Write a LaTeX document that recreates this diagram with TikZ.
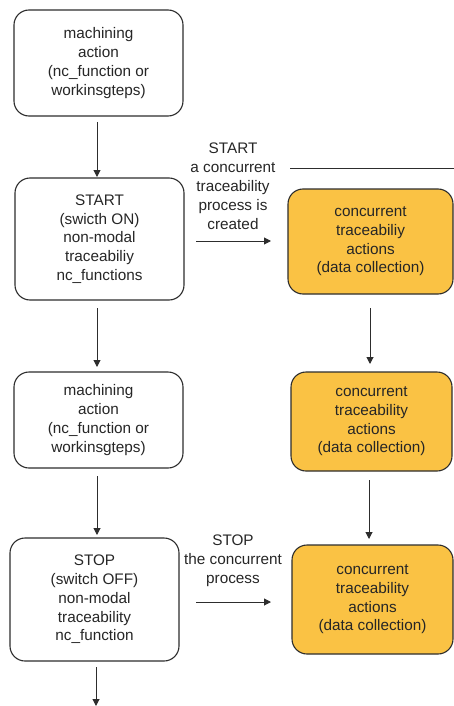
\documentclass[tikz,border=0pt]{standalone}
\usepackage{fontspec}
\setmainfont{Liberation Sans}
\usetikzlibrary{arrows.meta}
\definecolor{boxorange}{RGB}{250,194,68}
\definecolor{linegray}{RGB}{45,45,45}
\tikzset{
  whitebox/.style={draw=linegray, line width=1.1pt, rounded corners=15pt, fill=white,
    align=center, inner sep=0pt, font=\fontsize{15.3}{18.7}\selectfont, text=black!85},
  orangebox/.style={whitebox, fill=boxorange},
  flow/.style={draw=linegray, line width=1pt, -{Triangle[length=7pt,width=7pt]}},
  lbl/.style={align=center, inner sep=0pt, font=\fontsize{15.3}{19}\selectfont, text=black!85}
}
\begin{document}
\begin{tikzpicture}[x=1pt,y=-1pt]
\useasboundingbox (0,0) rectangle (454,706);
% left column
\node[whitebox, minimum width=169pt, minimum height=106pt] (m1) at (98.5,63)
  {machining\\action\\(nc\_function or\\workinsgteps)};
\node[whitebox, minimum width=169pt, minimum height=122pt] (start) at (99.5,239)
  {START\\(swicth ON)\\non-modal\\traceabiliy\\nc\_functions};
\node[whitebox, minimum width=169pt, minimum height=96pt] (m2) at (98.5,420)
  {machining\\action\\(nc\_function or\\workinsgteps)};
\node[whitebox, minimum width=169pt, minimum height=123pt] (stop) at (94.5,599.5)
  {STOP\\(switch OFF)\\non-modal\\traceability\\nc\_function};
% right column
\node[orangebox, minimum width=165pt, minimum height=105pt] (c1) at (370.5,241.5)
  {concurrent\\traceabiliy\\actions\\(data collection)};
\node[orangebox, minimum width=161pt, minimum height=99pt] (c2) at (371.5,421.5)
  {concurrent\\traceability\\actions\\(data collection)};
\node[orangebox, minimum width=161pt, minimum height=109pt] (c3) at (372.5,599.5)
  {concurrent\\traceability\\actions\\(data collection)};
% labels
\node[lbl] (lstart) at (233,186)
  {START\\a concurrent\\traceability\\process is\\created};
\node[lbl] (lstop) at (233,561)
  {STOP\\the concurrent\\process};
% connector coordinates
\coordinate (a1s) at (97,122);
\coordinate (a1e) at (97,177);
\coordinate (a2s) at (97,308);
\coordinate (a2e) at (97,367);
\coordinate (a3s) at (97,476);
\coordinate (a3e) at (97,535);
\coordinate (a4s) at (96,667);
\coordinate (a4e) at (96,706);
\coordinate (r1s) at (370,308);
\coordinate (r1e) at (370,364);
\coordinate (r2s) at (369,480);
\coordinate (r2e) at (369,539);
\coordinate (hs) at (196,241);
\coordinate (he) at (271,241);
\coordinate (ss) at (196,602);
\coordinate (se) at (271,602);
\coordinate (ls) at (290,168);
\coordinate (le) at (454,168);
\draw[flow] (a1s) -- (a1e);
\draw[flow] (a2s) -- (a2e);
\draw[flow] (a3s) -- (a3e);
\draw[flow] (a4s) -- (a4e);
\draw[flow] (r1s) -- (r1e);
\draw[flow] (r2s) -- (r2e);
\draw[flow] (hs) -- (he);
\draw[flow] (ss) -- (se);
\draw[draw=linegray, line width=1pt] (ls) -- (le);
\end{tikzpicture}
\end{document}
